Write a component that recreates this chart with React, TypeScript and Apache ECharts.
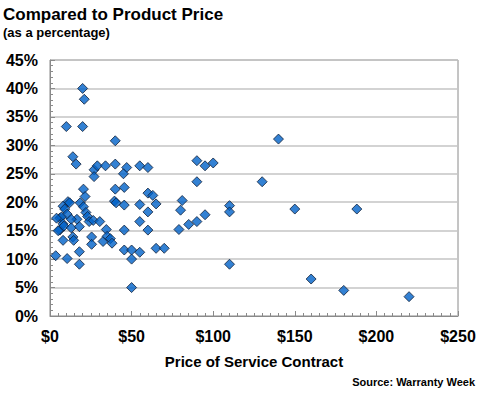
import React, { useEffect, useRef } from "react";
import * as echarts from "echarts";

const priceValues: number[] = [
  20, 21, 10, 20, 40, 14, 16, 27, 29, 34, 40, 47, 45, 27, 55, 60, 90, 95, 100, 140, 90, 130,
  20.5, 21.5, 40, 45.5, 11, 12, 18.5, 20.5, 8, 9, 10.5, 22, 23, 6, 7, 16.5, 13, 24, 26.5, 30.5,
  8, 6, 8.5, 13, 18, 34.5, 8, 14, 14.5, 25.5, 25.5, 32.5, 35, 37, 38, 3.5, 10.5, 18, 18,
  39.5, 40.5, 45.5, 45.5, 45.5, 50, 50, 55, 55, 55, 60, 63, 65, 60, 60, 65, 70, 50,
  81, 80, 95, 90, 85, 79, 110, 110, 110, 150, 188, 160, 180, 220, 4, 5,
];
const percentValues: number[] = [
  40.0, 38.1, 33.3, 33.3, 30.8, 28.0, 26.7, 25.7, 26.4, 26.4, 26.7, 26.1, 25.0, 24.5, 26.4, 26.1, 27.3, 26.4, 26.9, 31.1, 23.6, 23.6,
  22.3, 21.0, 22.3, 22.6, 20.1, 19.9, 19.9, 19.2, 19.3, 18.8, 17.9, 18.2, 17.5, 17.2, 17.4, 17.0, 17.0, 16.6, 16.8, 16.6,
  16.2, 15.1, 15.8, 15.5, 15.7, 15.2, 13.3, 13.9, 13.3, 13.9, 12.6, 13.1, 14.0, 13.6, 12.8, 10.6, 10.1, 11.3, 9.1,
  20.2, 19.9, 19.5, 15.1, 11.6, 11.6, 10.0, 11.2, 19.6, 16.6, 21.6, 21.2, 19.7, 18.3, 15.1, 11.9, 11.9, 5.0,
  20.3, 18.6, 17.8, 16.6, 16.1, 15.2, 19.4, 18.3, 9.1, 18.8, 18.8, 6.5, 4.5, 3.4, 17.2, 15.0,
];

const xTicks = { min: 0, max: 250, interval: 50 };
const yTicks = { min: 0, max: 45, interval: 5 };

const titleText = "Compared to Product Price";
const subtitleText = "(as a percentage)";
const xAxisName = "Price of Service Contract";
const sourceText = "Source: Warranty Week";

export default function App() {
  const ref = useRef<HTMLDivElement>(null);
  useEffect(() => {
    document.body.style.margin = "0";
    if (!ref.current) return;
    const chart = echarts.init(ref.current, null, { renderer: "svg" });
    const points = priceValues.map((p, i) => [p, percentValues[i]]);
    const font = "Liberation Sans";
    chart.setOption({
      animation: false,
      backgroundColor: "#ffffff",
      grid: {
        left: 50,
        right: 22,
        top: 60,
        bottom: 84,
        show: true,
        borderColor: "#8a8a8a",
        borderWidth: 1,
      },
      graphic: [
        {
          type: "text",
          left: 3,
          top: 6,
          style: { text: titleText, font: `bold 17px "${font}"`, fill: "#000" },
        },
        {
          type: "text",
          left: 3,
          top: 26,
          style: { text: subtitleText, font: `bold 13px "${font}"`, fill: "#000" },
        },
        {
          type: "text",
          right: 5,
          top: 376,
          style: { text: sourceText, font: `bold 11px "${font}"`, fill: "#000" },
        },
      ],
      xAxis: {
        type: "value",
        min: xTicks.min,
        max: xTicks.max,
        interval: xTicks.interval,
        name: xAxisName,
        nameLocation: "middle",
        nameGap: 38,
        nameTextStyle: { fontFamily: font, fontWeight: "bold", fontSize: 15, color: "#000" },
        axisLine: { show: true, lineStyle: { color: "#8a8a8a", width: 1 } },
        axisTick: { show: true, inside: true, length: 5, lineStyle: { color: "#8a8a8a" } },
        minorTick: { show: true, splitNumber: 10, length: 3, lineStyle: { color: "#8a8a8a" } },
        splitLine: { show: false },
        axisLabel: {
          formatter: "${value}",
          fontFamily: font,
          fontWeight: "bold",
          fontSize: 16,
          color: "#000",
          margin: 12,
        },
      },
      yAxis: {
        type: "value",
        min: yTicks.min,
        max: yTicks.max,
        interval: yTicks.interval,
        axisLine: { show: true, lineStyle: { color: "#8a8a8a", width: 1 } },
        axisTick: { show: true, inside: true, length: 5, lineStyle: { color: "#8a8a8a" } },
        minorTick: { show: true, splitNumber: 5, length: 3, lineStyle: { color: "#8a8a8a" } },
        splitLine: { show: true, lineStyle: { color: "#c4c4c4", width: 1.5 } },
        axisLabel: {
          formatter: "{value}%",
          fontFamily: font,
          fontWeight: "bold",
          fontSize: 16,
          color: "#000",
          margin: 12,
        },
      },
      series: [
        {
          type: "scatter",
          data: points,
          symbol: "diamond",
          symbolSize: 10,
          itemStyle: { color: "#0062c8", borderColor: "#10203a", borderWidth: 1 },
        },
      ],
    });
    return () => chart.dispose();
  }, []);
  return <div ref={ref} style={{ width: 480, height: 400 }} />;
}
